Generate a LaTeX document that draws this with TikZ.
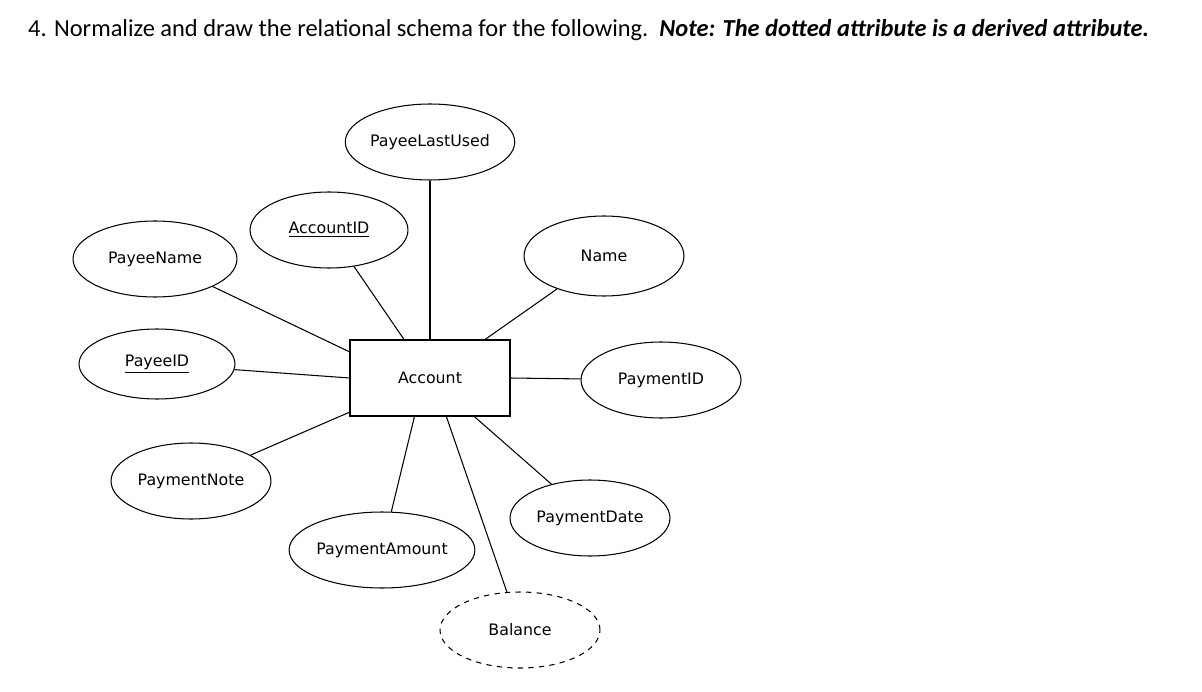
\documentclass[tikz,border=0pt]{standalone}
\usepackage{fontspec}
\setmainfont{DejaVu Sans}
\newfontfamily\titlefont{Carlito}
\usetikzlibrary{shapes.geometric}
\begin{document}
\begin{tikzpicture}[x=0.02cm,y=-0.02cm,
    attr/.style={draw,semithick,ellipse,minimum width=3.2cm,minimum height=1.52cm,inner sep=0pt,font=\small},
    derived/.style={attr,dashed}]
    \useasboundingbox (0,0) rectangle (1202,692);

    % Titel
    \node[anchor=west,font=\titlefont\fontsize{13.9}{17}\selectfont] (title) at (22,30)
        {4. Normalize and draw the relational schema for the following.\ \ \textbf{\textit{Note: The dotted attribute is a derived attribute.}}};

    % Entitaet
    \node[draw,semithick,minimum width=3.2cm,minimum height=1.52cm,font=\small] (account) at (430,378) {Account};

    % Attribute
    \node[attr] (lastused) at (430,142) {PayeeLastUsed};
    \node[attr,minimum width=3.16cm] (accid) at (329,230) {\underline{AccountID}};
    \node[attr,minimum width=3.28cm] (payeename) at (155,259) {PayeeName};
    \node[attr,minimum height=1.6cm] (name) at (604,256) {Name};
    \node[attr,minimum width=3.12cm,minimum height=1.4cm] (payeeid) at (157,364) {\underline{PayeeID}};
    \node[attr] (paymentid) at (661,380) {PaymentID};
    \node[attr] (paymentnote) at (191,481) {PaymentNote};
    \node[attr] (paymentdate) at (590,518) {PaymentDate};
    \node[attr,minimum width=3.28cm] (amount) at (382,550) {PaymentAmount};
    \node[derived] (balance) at (520,630) {Balance};

    % Verbindungen
    \draw[semithick] (lastused) -- (account);
    \draw[semithick] (accid) -- (account.124);
    \draw[semithick] (payeename) -- (account.162);
    \draw[semithick] (name) -- (account.35);
    \draw[semithick] (payeeid) -- (account.west);
    \draw[semithick] (account.east) -- (paymentid);
    \draw[semithick] (paymentnote) -- (account.203);
    \draw[semithick] (account.-41) -- (paymentdate);
    \draw[semithick] (account.-112) -- (amount);
    \draw[semithick] (account.-67) -- (balance);
\end{tikzpicture}
\end{document}
